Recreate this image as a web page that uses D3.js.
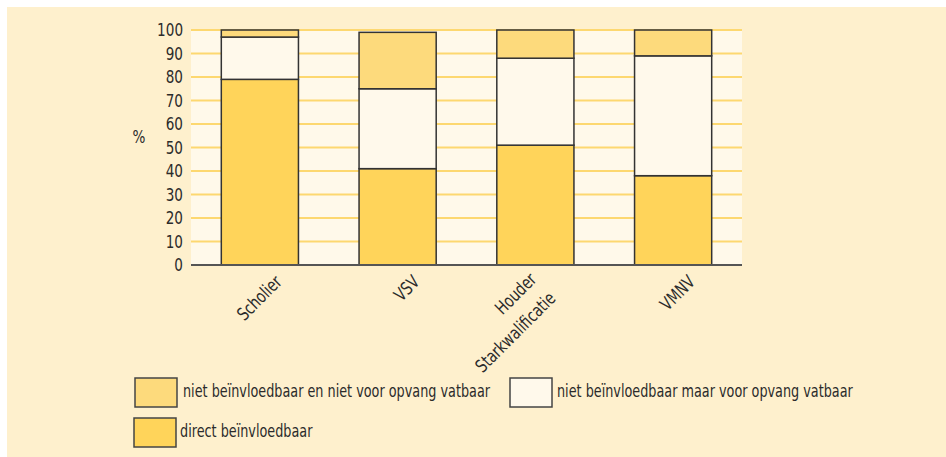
<!DOCTYPE html>
<html>
<head>
<meta charset="utf-8">
<script src="https://cdn.jsdelivr.net/npm/d3@7/dist/d3.min.js"></script>
<style>
html,body{margin:0;padding:0;background:#fff;}
svg{display:block;}
text{font-family:"Liberation Sans Narrow","DejaVu Sans Condensed","Noto Sans",sans-serif;fill:#2b2b2b;}
</style>
</head>
<body>
<svg id="chart" width="946" height="457"></svg>
<script>
// ---- data ----
const categories = [["Scholier"], ["VSV"], ["Houder", "Starkwalificatie"], ["VMNV"]];
const directValues = [79, 41, 51, 38];
const opvangValues = [18, 34, 37, 51];
const nietValues = [3, 24, 12, 11];
const seriesNames = ["direct beïnvloedbaar", "niet beïnvloedbaar maar voor opvang vatbaar", "niet beïnvloedbaar en niet voor opvang vatbaar"];
const yTicks = [0, 10, 20, 30, 40, 50, 60, 70, 80, 90, 100];
const yLabel = "%";

(function() {
const colors = ["#FFD45A", "#FFF9EB", "#FDDA7C"];

const svg = d3.select("#chart");
svg.append("rect").attr("x", 7).attr("y", 7).attr("width", 939).attr("height", 450).attr("fill", "#FEF0CD");

const pLeft = 191, pRight = 742, pTop = 30, pBottom = 265;
const keys = categories.map(c => c.join(" "));
const x = d3.scaleBand().domain(keys).range([pLeft, pRight]).paddingInner(0.44).paddingOuter(0.22);
const y = d3.scaleLinear().domain([0, 100]).range([pBottom, pTop]);

// plot background
svg.append("rect").attr("x", pLeft).attr("y", y(100)).attr("width", pRight - pLeft).attr("height", y(0) - y(100)).attr("fill", "#FFF9EA");

// gridlines
svg.append("g").selectAll("line").data(yTicks.filter(t => t > 0)).join("line")
  .attr("x1", pLeft).attr("x2", pRight)
  .attr("y1", d => y(d)).attr("y2", d => y(d))
  .attr("stroke", "#FDD870").attr("stroke-width", 2);

// y axis labels
const yAxis = d3.axisLeft(y).tickValues(yTicks).tickSize(0).tickPadding(8);
const yg = svg.append("g").attr("transform", `translate(${pLeft},0)`).call(yAxis);
yg.select(".domain").remove();
yg.attr("font-family", null).attr("font-size", null);
yg.selectAll("text").attr("font-size", 18).attr("class", "cond").style("fill", "#2b2b2b");

svg.append("text").attr("class", "cond").attr("x", 139).attr("y", 143).attr("text-anchor", "middle").attr("font-size", 18).text(yLabel);

// stacked bars
const rows = keys.map((k, i) => ({key: k, direct: directValues[i], opvang: opvangValues[i], niet: nietValues[i]}));
const stack = d3.stack().keys(["direct", "opvang", "niet"]);
const stacked = stack(rows);
svg.append("g").selectAll("g").data(stacked).join("g")
  .attr("fill", (d, i) => colors[i])
  .selectAll("rect").data(d => d).join("rect")
  .attr("x", d => x(d.data.key))
  .attr("width", x.bandwidth())
  .attr("y", d => y(d[1]))
  .attr("height", d => y(d[0]) - y(d[1]))
  .attr("stroke", "#333")
  .attr("stroke-width", 1.5);

// x axis line
svg.append("line").attr("x1", pLeft).attr("x2", pRight).attr("y1", pBottom).attr("y2", pBottom)
  .attr("stroke", "#555").attr("stroke-width", 2);

// x labels
const lh = 27;
const xl = svg.append("g").selectAll("g").data(categories).join("g")
  .attr("transform", (d, i) => `translate(${x(keys[i]) + x.bandwidth() / 2 + 23},283) rotate(-45)`);
xl.each(function(lines) {
  const n = lines.length;
  d3.select(this).selectAll("text").data(lines).join("text")
    .attr("class", "cond")
    .attr("text-anchor", "end")
    .attr("font-size", 18)
    .attr("x", -(n - 1) * 13)
    .attr("y", (d, j) => (j - (n - 1) / 2) * lh - (n - 1) * 3)
    .text(d => d);
});

// legend
const legendItems = [
  {i: 2, bx: 135, by: 378, tx: 183, ty: 397},
  {i: 1, bx: 510, by: 378, tx: 557, ty: 397},
  {i: 0, bx: 134, by: 418, tx: 180, ty: 437}
];
const lg = svg.append("g").selectAll("g").data(legendItems).join("g");
lg.append("rect").attr("x", d => d.bx).attr("y", d => d.by).attr("width", 42).attr("height", 29)
  .attr("fill", d => colors[d.i]).attr("stroke", "#444").attr("stroke-width", 1.5);
const lt = lg.append("text").attr("class", "cond").attr("x", d => d.tx).attr("y", d => d.ty).attr("font-size", 17).text(d => seriesNames[d.i]);

// condense all text to mimic a condensed typeface: first legend label spans ~307px
const refLen = lt.filter(d => d.i === 2).node().getComputedTextLength();
const k = Math.min(1, 307 / refLen);
svg.selectAll("text.cond").each(function() {
  const len = this.getComputedTextLength();
  d3.select(this).attr("textLength", len * k).attr("lengthAdjust", "spacingAndGlyphs");
});
})();
</script>
</body>
</html>
